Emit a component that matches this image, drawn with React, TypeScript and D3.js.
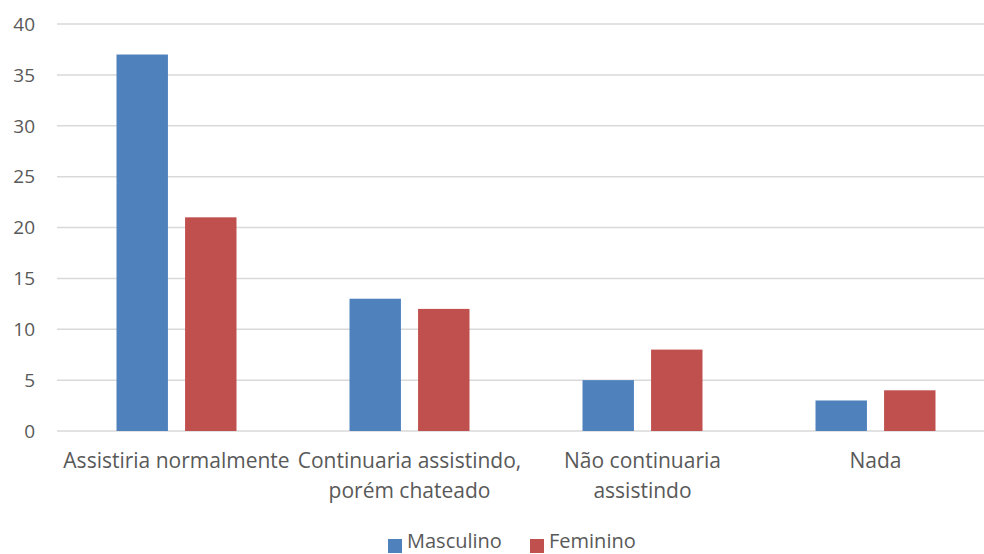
import React from "react";
import * as d3 from "d3";

const categories = [
  ["Assistiria normalmente"],
  ["Continuaria assistindo,", "porém chateado"],
  ["Não continuaria", "assistindo"],
  ["Nada"],
];
const seriesNames = ["Masculino", "Feminino"];
const masculino = [37, 13, 5, 3];
const feminino = [21, 12, 8, 4];
const yTicks = [0, 5, 10, 15, 20, 25, 30, 35, 40];
const colors = ["#4f81bd", "#c0504d"];

const W = 984;
const H = 554;
const FONT = "'Open Sans', 'Noto Sans', sans-serif";

export default function App() {
  const x = d3
    .scaleBand<number>()
    .domain(d3.range(categories.length))
    .range([60, 992])
    .paddingInner(0)
    .paddingOuter(0);
  const y = d3.scaleLinear().domain([0, 40]).range([431, 24]);
  const inner = d3
    .scaleBand<number>()
    .domain([0, 1])
    .range([(x.bandwidth() - 120) / 2, (x.bandwidth() + 120) / 2])
    .paddingInner(0.25);
  const series = [masculino, feminino];

  return (
    <svg
      width={W}
      height={H}
      style={{ position: "absolute", left: 0, top: 0, background: "#fff" }}
      fontFamily={FONT}
    >
      {yTicks.map((t) => (
        <g key={t}>
          <line x1={57} x2={W} y1={y(t)} y2={y(t)} stroke="#d9d9d9" strokeWidth={1.5} />
          <text x={35} y={y(t)} dy="0.36em" textAnchor="end" fontSize={19} fill="#595959">
            {t}
          </text>
        </g>
      ))}
      {categories.map((c, i) => (
        <g key={i} transform={`translate(${x(i)},0)`}>
          {series.map((s, k) => (
            <rect
              key={k}
              x={inner(k)}
              y={y(s[i])}
              width={inner.bandwidth()}
              height={y(0) - y(s[i])}
              fill={colors[k]}
            />
          ))}
          {c.map((line, j) => (
            <text
              key={j}
              x={x.bandwidth() / 2}
              y={468 + j * 30}
              textAnchor="middle"
              fontSize={21}
              fill="#595959"
            >
              {line}
            </text>
          ))}
        </g>
      ))}
      {seriesNames.map((n, k) => {
        const lx = [388, 530][k];
        return (
          <g key={n}>
            <rect x={lx} y={539} width={14} height={14} fill={colors[k]} />
            <text x={lx + 19} y={548} fontSize={20} fill="#595959">
              {n}
            </text>
          </g>
        );
      })}
    </svg>
  );
}
